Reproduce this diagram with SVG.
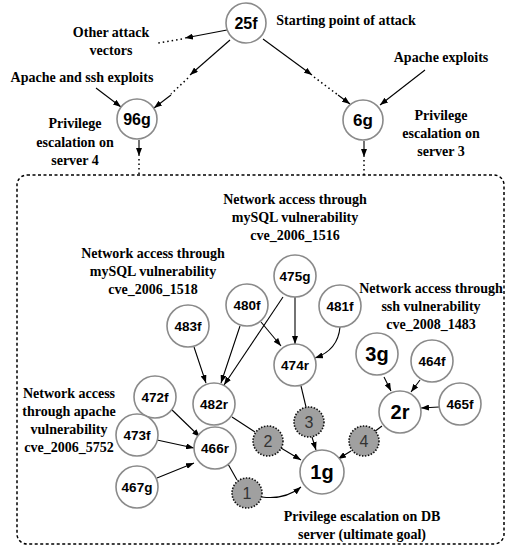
<svg xmlns="http://www.w3.org/2000/svg" width="507" height="548" viewBox="0 0 507 548">
<style>
.n circle{fill:#fff;stroke:#8a8a8a;stroke-width:1.6}
.n text{font-family:"Liberation Sans",Arial,sans-serif;font-weight:bold;fill:#000;text-anchor:middle}
.s circle{fill:#a0a0a0;stroke:#111;stroke-width:1.6;stroke-dasharray:1.5 1.5}
.s text{font-family:"Liberation Sans",Arial,sans-serif;font-size:16px;fill:#333;text-anchor:middle}
.t{font-family:"Liberation Serif","Times New Roman",serif;font-weight:bold;font-size:14px;fill:#000;text-anchor:middle}
.e{stroke:#000;stroke-width:1.1;fill:none}
.a{marker-end:url(#ah)}
.d{stroke:#000;stroke-width:1.5;fill:none;stroke-dasharray:1.5 3}
</style>
<defs>
<marker id="ah" markerUnits="userSpaceOnUse" markerWidth="8" markerHeight="6" refX="8" refY="3" orient="auto">
<path d="M0,0 L8,3 L0,6 z" fill="#000"/>
</marker>
</defs>
<rect x="17" y="175" width="487" height="369" rx="10" fill="none" stroke="#000" stroke-width="1.5" stroke-dasharray="3 2.5"/>
<g id="connectors">
<path class="e a" d="M227,30 L185,38"/>
<path class="d" d="M182,39 L158,43"/>
<path class="e a" d="M230,40 L190,75"/>
<path class="d" d="M188,78 L171,94"/>
<path class="e a" d="M171,95 L154,108"/>
<path class="e a" d="M263,39 L312,75"/>
<path class="d" d="M314,77 L338,95"/>
<path class="e a" d="M338,95 L350,104"/>
<path class="e a" d="M96,88 L121,107"/>
<path class="e a" d="M425,70 L380,105"/>
<path class="e a" d="M139,140 L139,156"/>
<path class="d" d="M139,159 L139,175"/>
<path class="e a" d="M364,141 L364,157"/>
<path class="d" d="M364,160 L364,175"/>
<path class="e a" d="M194,347 L206,383"/>
<path class="e a" d="M240,326 L221,383"/>
<path class="e a" d="M283,297 L224,385"/>
<path class="e a" d="M261,322 L281,346"/>
<path class="e a" d="M295,297 L295,344"/>
<path class="e a" d="M340,327 Q338,350 315,358"/>
<path class="e" d="M301,386 L306,407"/>
<path class="e a" d="M312,437 L316,450"/>
<path class="e" d="M232,417 L255,432"/>
<path class="e a" d="M281,448 L301,460"/>
<path class="e" d="M228,464 L237,480"/>
<path class="e a" d="M262,497 Q285,500 301,487"/>
<path class="e" d="M382,426 L374,432"/>
<path class="e a" d="M351,451 L338,459"/>
<path class="e a" d="M384,377 L391,391"/>
<path class="e a" d="M420,380 L411,392"/>
<path class="e a" d="M439,407 L421,408"/>
<path class="e a" d="M170,408 L200,437"/>
<path class="e a" d="M157,440 L194,448"/>
<path class="e a" d="M157,478 L194,463"/>
</g>
<g id="n25f" class="n"><circle cx="246" cy="23" r="20"/><text x="246" y="29" font-size="16">25f</text></g>
<g id="n96g" class="n"><circle cx="137" cy="119" r="20"/><text x="137" y="125" font-size="16">96g</text></g>
<g id="n6g" class="n"><circle cx="363" cy="120" r="20"/><text x="363" y="126" font-size="17">6g</text></g>
<g id="n483f" class="n"><circle cx="188" cy="326" r="21"/><text x="188" y="331" font-size="13.5">483f</text></g>
<g id="n480f" class="n"><circle cx="247" cy="305" r="21"/><text x="247" y="310" font-size="13.5">480f</text></g>
<g id="n475g" class="n"><circle cx="295" cy="276" r="21"/><text x="295" y="281" font-size="13.5">475g</text></g>
<g id="n481f" class="n"><circle cx="340" cy="306" r="21"/><text x="340" y="311" font-size="13.5">481f</text></g>
<g id="n474r" class="n"><circle cx="295" cy="365" r="21"/><text x="295" y="370" font-size="13.5">474r</text></g>
<g id="n482r" class="n"><circle cx="214" cy="404" r="21"/><text x="214" y="409" font-size="13.5">482r</text></g>
<g id="n472f" class="n"><circle cx="155" cy="397" r="21"/><text x="155" y="402" font-size="13.5">472f</text></g>
<g id="n473f" class="n"><circle cx="137" cy="435" r="21"/><text x="137" y="440" font-size="13.5">473f</text></g>
<g id="n467g" class="n"><circle cx="137" cy="487" r="21"/><text x="137" y="492" font-size="13.5">467g</text></g>
<g id="n466r" class="n"><circle cx="215" cy="448" r="21"/><text x="215" y="453" font-size="13.5">466r</text></g>
<g id="n1g" class="n"><circle cx="322" cy="472" r="22"/><text x="322" y="479" font-size="20">1g</text></g>
<g id="n2r" class="n"><circle cx="400" cy="412" r="21"/><text x="400" y="419" font-size="20">2r</text></g>
<g id="n3g" class="n"><circle cx="377" cy="354" r="21"/><text x="377" y="361" font-size="20">3g</text></g>
<g id="n464f" class="n"><circle cx="432" cy="361" r="21"/><text x="432" y="366" font-size="13.5">464f</text></g>
<g id="n465f" class="n"><circle cx="460" cy="404" r="21"/><text x="460" y="409" font-size="13.5">465f</text></g>
<g id="s1" class="s"><circle cx="247" cy="493" r="15"/><text x="247" y="499">1</text></g>
<g id="s2" class="s"><circle cx="268" cy="441" r="15"/><text x="268" y="447">2</text></g>
<g id="s3" class="s"><circle cx="309" cy="422" r="15"/><text x="309" y="428">3</text></g>
<g id="s4" class="s"><circle cx="364" cy="441" r="15"/><text x="364" y="447">4</text></g>
<g id="labels">
<text class="t" x="346" y="25">Starting point of attack</text>
<text class="t" x="111" y="37">Other attack</text>
<text class="t" x="111" y="55">vectors</text>
<text class="t" x="82" y="82">Apache and ssh exploits</text>
<text class="t" x="441" y="62">Apache exploits</text>
<text class="t" x="75" y="128">Privilege</text>
<text class="t" x="75" y="147">escalation on</text>
<text class="t" x="75" y="165">server 4</text>
<text class="t" x="441" y="120">Privilege</text>
<text class="t" x="441" y="138">escalation on</text>
<text class="t" x="441" y="156">server 3</text>
<text class="t" x="295" y="204">Network access through</text>
<text class="t" x="295" y="222">mySQL vulnerability</text>
<text class="t" x="295" y="240">cve_2006_1516</text>
<text class="t" x="153" y="258">Network access through</text>
<text class="t" x="153" y="276">mySQL vulnerability</text>
<text class="t" x="153" y="294">cve_2006_1518</text>
<text class="t" x="431" y="293">Network access through</text>
<text class="t" x="431" y="311">ssh vulnerability</text>
<text class="t" x="431" y="329">cve_2008_1483</text>
<text class="t" x="69" y="398">Network access</text>
<text class="t" x="69" y="416">through apache</text>
<text class="t" x="69" y="434">vulnerability</text>
<text class="t" x="69" y="452">cve_2006_5752</text>
<text class="t" x="362" y="521">Privilege escalation on DB</text>
<text class="t" x="362" y="539">server (ultimate goal)</text>
</g>
</svg>
